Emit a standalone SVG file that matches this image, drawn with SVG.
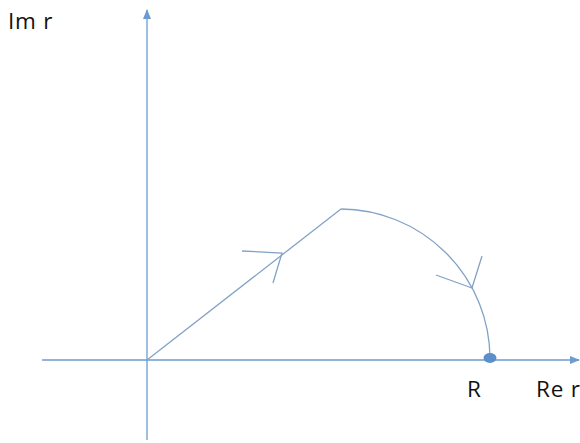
<svg xmlns="http://www.w3.org/2000/svg" width="580" height="443" viewBox="0 0 580 443">
<style>
.axis{stroke:#6b9bd0;stroke-width:1.3;fill:none}
.path{stroke:#82a2c6;stroke-width:1.3;fill:none}
.lbl{font-family:"Open Sans","Liberation Sans",sans-serif;font-size:22.5px;letter-spacing:0.8px;fill:#111}
</style>
<defs>
<marker id="ah" markerWidth="10" markerHeight="8" refX="9" refY="4" orient="auto" markerUnits="userSpaceOnUse">
<path d="M0,0 L10,4 L0,8 Z" fill="#6b9bd0"/>
</marker>
</defs>
<rect width="580" height="443" fill="#fff"/>
<g id="connectors">
<line class="axis" x1="147" y1="440" x2="147" y2="10" marker-end="url(#ah)"/>
<line class="axis" x1="42" y1="360" x2="579" y2="360" marker-end="url(#ah)"/>
<path id="ray" class="path" d="M147,360 L341,209"/>
<path id="arc" class="path" d="M341,209 A150,150 0 0 1 490,358"/>
<path class="path" d="M242,251 L282,253 L273,283"/>
<path class="path" d="M436,275 L472,288 L482,256"/>
</g>
<g id="point-R">
<ellipse cx="490" cy="358" rx="6.5" ry="5" fill="#5b8fcc"/>
</g>
<g id="labels">
<text class="lbl" x="8" y="29">Im r</text>
<text class="lbl" x="467" y="397">R</text>
<text class="lbl" x="536" y="397">Re r</text>
</g>
</svg>
